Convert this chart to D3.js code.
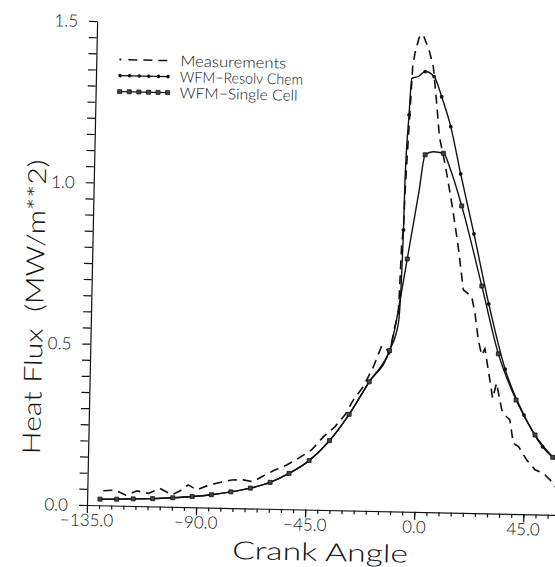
<!DOCTYPE html>
<html>
<head>
<meta charset="utf-8">
<script src="https://cdn.jsdelivr.net/npm/d3@7"></script>
<style>
  body { margin: 0; background: #fff; }
  text { font-family: Lato, "DejaVu Sans", sans-serif; font-weight: 300; fill: #111; }
</style>
</head>
<body>
<div id="chart"></div>
<script>
// crank angle (deg), heat flux (MW/m**2)
const measured = [
  [-128.4,0.045],[-123.6,0.048],[-119.0,0.033],[-114.5,0.047],[-109.8,0.040],[-105.1,0.056],
  [-100.1,0.037],[-96.7,0.050],[-93.4,0.069],[-89.9,0.054],[-85.8,0.067],[-81.7,0.076],
  [-75.5,0.087],[-70.8,0.088],[-66.7,0.083],[-63.2,0.099],[-58.5,0.118],[-53.0,0.137],
  [-48.3,0.158],[-42.9,0.185],[-38.1,0.227],[-33.4,0.259],[-29.4,0.296],[-26.1,0.343],
  [-22.1,0.385],[-18.1,0.447],[-14.9,0.512],[-13.1,0.505],[-11.6,0.490],[-9.6,0.573],
  [-8.3,0.614],[-7.9,0.718],[-7.5,0.831],[-6.9,0.873],[-6.6,0.987],[-4.5,1.379],
  [-3.7,1.421],[-2.1,1.470],[-0.5,1.480],[2.3,1.427],[4.0,1.381],[5.7,1.268],
  [7.1,1.164],[9.6,1.082],[12.0,0.990],[13.5,0.928],[15.8,0.825],[18.3,0.691],
  [20.2,0.680],[21.8,0.671],[23.3,0.619],[24.9,0.537],[26.4,0.490],[27.7,0.510],
  [30.0,0.414],[31.3,0.357],[32.8,0.404],[35.2,0.321],[37.3,0.300],[38.6,0.291],
  [40.2,0.219],[42.4,0.209],[45.9,0.168],[49.4,0.138],[52.8,0.128],[55.7,0.108],[57.8,0.087]
];

// third value: 1 = marker drawn at this point
const resolvChem = [
  [-129.7,0.019,0],[-122.8,0.020,0],[-116.0,0.022,0],[-108.0,0.024,0],[-99.7,0.028,0],
  [-91.7,0.033,0],[-83.8,0.040,0],[-75.8,0.050,0],[-67.8,0.063,0],[-59.7,0.082,0],
  [-52.0,0.111,0],[-43.8,0.152,0],[-35.6,0.215,0],[-27.7,0.298,0],[-19.7,0.400,0],
  [-11.6,0.498,0],[-8.2,0.583,0],[-6.9,0.873,1],[-6.7,1.028,0],[-5.6,1.230,1],
  [-4.8,1.343,0],[-1.9,1.350,0],[0.7,1.365,1],[4.4,1.350,1],[7.7,1.288,1],
  [11.7,1.196,1],[16.2,1.050,1],[22.2,0.865,1],[28.9,0.649,1],[36.2,0.448,1],
  [44.4,0.307,1],[52.3,0.210,1],[58.0,0.170,0]
];

const singleCell = [
  [-129.7,0.019,1],[-122.8,0.020,1],[-116.0,0.022,1],[-108.0,0.024,1],[-99.7,0.028,1],
  [-91.7,0.033,1],[-83.8,0.040,1],[-75.8,0.050,1],[-67.8,0.063,1],[-59.7,0.082,1],
  [-52.0,0.111,1],[-43.8,0.152,1],[-35.6,0.215,1],[-27.7,0.298,1],[-19.7,0.400,1],
  [-11.6,0.498,1],[-5.1,0.783,1],[-0.9,0.990,0],[1.4,1.107,1],[4.8,1.117,0],
  [8.9,1.113,1],[12.1,1.060,0],[16.9,0.951,1],[25.9,0.704,1],[33.3,0.495,1],
  [41.0,0.353,1],[49.1,0.246,1],[56.6,0.178,1]
];

const xTicks = [-135, -90, -45, 0, 45];
const yTicks = [0, 0.5, 1.0, 1.5];
const legendNames = ["Measurements", "WFM\u2212Resolv Chem", "WFM\u2212Single Cell"];

const width = 555, height = 567;
const ox = 87, oy = 505;

const x = d3.scaleLinear().domain([-135, 60]).range([ox, ox + 195 * 2.425]);
const y = d3.scaleLinear().domain([0, 1.5]).range([oy, 21]);

const svg = d3.select("#chart").append("svg")
  .attr("width", width)
  .attr("height", height);

// the scanned figure is tilted a little
const g = svg.append("g")
  .attr("transform", `rotate(1.2, ${ox}, ${oy})`);

// x axis: minor ticks every 5 deg, major every 45
g.append("g")
  .attr("transform", `translate(0,${oy})`)
  .call(d3.axisBottom(x).tickValues(d3.range(-135, 61, 5)).tickSize(4).tickSizeOuter(0).tickFormat(""))
  .call(a => a.selectAll("line,path").attr("stroke", "#111").attr("stroke-width", 1.2));

g.append("g")
  .attr("transform", `translate(0,${oy})`)
  .call(d3.axisBottom(x).tickValues(xTicks).tickSize(8).tickFormat(""))
  .call(a => a.select(".domain").remove())
  .call(a => a.selectAll("line").attr("stroke", "#111").attr("stroke-width", 1.2));

// y axis: ticks every 0.05
g.append("g")
  .attr("transform", `translate(${ox},0)`)
  .call(d3.axisLeft(y).tickValues(d3.range(0, 1.5001, 0.05)).tickSize(8).tickSizeOuter(0).tickFormat(""))
  .call(a => a.selectAll("line,path").attr("stroke", "#111").attr("stroke-width", 1.2));

const fmt = v => (v < 0 ? "\u2212" : "") + Math.abs(v).toFixed(1);

g.selectAll(".xlab")
  .data(xTicks)
  .enter()
  .append("text")
  .attr("class", "xlab")
  .attr("x", d => x(d))
  .attr("y", oy + 21)
  .attr("text-anchor", "middle")
  .attr("font-size", "17px")
  .text(fmt);

g.selectAll(".ylab")
  .data(yTicks)
  .enter()
  .append("text")
  .attr("class", "ylab")
  .attr("x", ox - 19)
  .attr("y", d => y(d))
  .attr("dy", "0.36em")
  .attr("text-anchor", "end")
  .attr("font-size", "17px")
  .text(d => d.toFixed(1));

g.append("text")
  .attr("x", 321)
  .attr("y", 556)
  .attr("text-anchor", "middle")
  .attr("font-size", "25px")
  .attr("textLength", 176)
  .attr("lengthAdjust", "spacingAndGlyphs")
  .text("Crank Angle");

g.append("text")
  .attr("transform", "translate(30,308) rotate(-90)")
  .attr("text-anchor", "middle")
  .attr("dy", "0.36em")
  .attr("font-size", "25px")
  .attr("textLength", 295)
  .attr("lengthAdjust", "spacingAndGlyphs")
  .style("white-space", "pre")
  .text("Heat Flux  (MW/m**2)");

// curves
const smooth = d3.line().x(d => x(d[0])).y(d => y(d[1])).curve(d3.curveMonotoneX);
const jagged = d3.line().x(d => x(d[0])).y(d => y(d[1]));

g.append("path")
  .attr("d", jagged(measured))
  .attr("fill", "none")
  .attr("stroke", "#111")
  .attr("stroke-width", 1.6)
  .attr("stroke-dasharray", "9,6");

g.append("path")
  .attr("d", smooth(resolvChem))
  .attr("fill", "none")
  .attr("stroke", "#111")
  .attr("stroke-width", 1.4);

g.append("path")
  .attr("d", smooth(singleCell))
  .attr("fill", "none")
  .attr("stroke", "#111")
  .attr("stroke-width", 1.4);

g.selectAll(".dot")
  .data(resolvChem.filter(d => d[2]))
  .enter()
  .append("circle")
  .attr("class", "dot")
  .attr("cx", d => x(d[0]))
  .attr("cy", d => y(d[1]))
  .attr("r", 1.9)
  .attr("fill", "#111");

g.selectAll(".sq")
  .data(singleCell.filter(d => d[2]))
  .enter()
  .append("rect")
  .attr("class", "sq")
  .attr("x", d => x(d[0]) - 2)
  .attr("y", d => y(d[1]) - 2)
  .attr("width", 4)
  .attr("height", 4)
  .attr("fill", "#444")
  .attr("stroke", "#111")
  .attr("stroke-width", 0.8);

// legend
const lx0 = 111, lx1 = 159, ltx = 171;
const rowY = [59, 75, 91];
const leg = g.append("g");

leg.append("circle").attr("cx", lx0).attr("cy", rowY[0]).attr("r", 1.1).attr("fill", "#111");
leg.append("line")
  .attr("x1", lx0 + 8).attr("x2", lx1)
  .attr("y1", rowY[0]).attr("y2", rowY[0])
  .attr("stroke", "#111").attr("stroke-width", 1.5)
  .attr("stroke-dasharray", "9,6");

[1, 2].forEach(i => {
  leg.append("line")
    .attr("x1", lx0).attr("x2", lx1)
    .attr("y1", rowY[i]).attr("y2", rowY[i])
    .attr("stroke", "#111").attr("stroke-width", 1.3);
});

const legMarks = d3.range(6).map(k => lx0 + k * (lx1 - lx0) / 5);

leg.selectAll(".ldot")
  .data(legMarks)
  .enter()
  .append("circle")
  .attr("cx", d => d)
  .attr("cy", rowY[1])
  .attr("r", 1.8)
  .attr("fill", "#111");

leg.selectAll(".lsq")
  .data(legMarks)
  .enter()
  .append("rect")
  .attr("x", d => d - 2)
  .attr("y", rowY[2] - 2)
  .attr("width", 4)
  .attr("height", 4)
  .attr("fill", "#444")
  .attr("stroke", "#111")
  .attr("stroke-width", 0.8);

leg.selectAll(".ltext")
  .data(legendNames)
  .enter()
  .append("text")
  .attr("x", ltx)
  .attr("y", (d, i) => rowY[i])
  .attr("dy", "0.36em")
  .attr("font-size", "15px")
  .attr("textLength", (d, i) => [106, 123, 118][i])
  .attr("lengthAdjust", "spacingAndGlyphs")
  .text(d => d);
</script>
</body>
</html>
